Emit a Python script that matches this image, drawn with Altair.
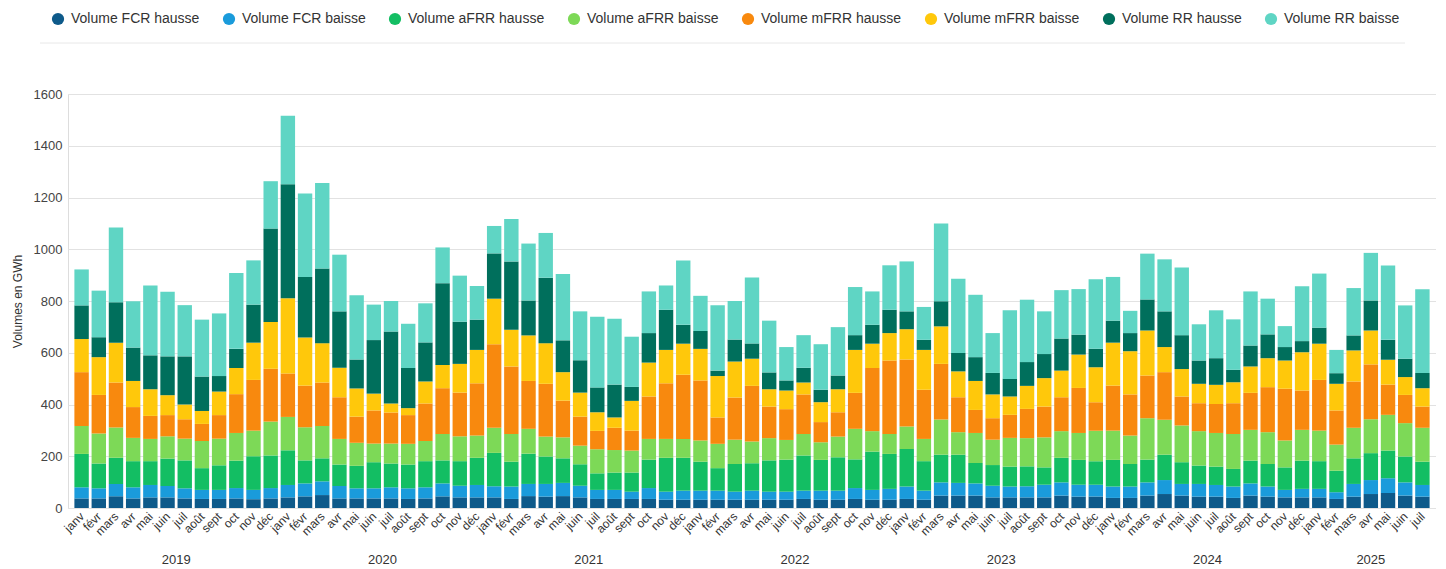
import altair as alt
import pandas as pd

MONTHS = ["janv", "févr", "mars", "avr", "mai", "juin", "juil", "août", "sept", "oct", "nov", "déc"]
YEARS = [2019, 2020, 2021, 2022, 2023, 2024, 2025]
MONTHS_PER_YEAR = [12, 12, 12, 12, 12, 12, 7]

SERIES = ["Volume FCR hausse", "Volume FCR baisse", "Volume aFRR hausse", "Volume aFRR baisse",
          "Volume mFRR hausse", "Volume mFRR baisse", "Volume RR hausse", "Volume RR baisse"]
COLORS = ["#0E5A8A", "#1A9BDB", "#13BE63", "#7DD957", "#F8890E", "#FFC80B", "#006F5C", "#5FD5C4"]

fcr_hausse = [37, 37, 45, 37, 41, 41, 37, 35, 35, 37, 34, 37,
              41, 45, 50, 37, 37, 37, 37, 35, 37, 45, 41, 41,
              41, 35, 46, 44, 46, 41, 35, 35, 35, 35, 32, 32,
              32, 32, 32, 32, 32, 32, 35, 32, 32, 35, 32, 32,
              35, 32, 48, 48, 48, 41, 41, 41, 41, 48, 44, 44,
              39, 39, 48, 54, 48, 44, 44, 39, 48, 44, 41, 41,
              41, 35, 44, 54, 58, 48, 44]
fcr_baisse = [43, 39, 48, 43, 48, 44, 39, 35, 35, 40, 36, 40,
              48, 50, 53, 48, 39, 39, 43, 41, 43, 50, 45, 48,
              43, 48, 47, 49, 51, 45, 35, 35, 28, 42, 31, 35,
              35, 35, 31, 35, 31, 31, 32, 35, 35, 42, 38, 42,
              48, 35, 51, 49, 47, 45, 42, 43, 49, 51, 46, 46,
              44, 44, 51, 54, 45, 49, 45, 44, 47, 39, 29, 33,
              33, 26, 49, 54, 57, 51, 45]
afrr_hausse = [129, 96, 101, 101, 92, 106, 108, 84, 95, 106, 130, 126,
               134, 89, 89, 83, 87, 101, 92, 92, 101, 89, 95, 105,
               129, 96, 117, 106, 95, 83, 64, 67, 74, 110, 131, 127,
               112, 87, 107, 106, 121, 124, 136, 119, 129, 111, 148, 135,
               145, 114, 107, 109, 79, 80, 77, 77, 67, 95, 96, 91,
               103, 87, 88, 98, 84, 71, 71, 68, 88, 87, 87, 109,
               107, 83, 99, 104, 107, 100, 90]
afrr_baisse = [108, 116, 117, 90, 86, 86, 84, 105, 103, 107, 99, 131,
               129, 128, 125, 99, 89, 72, 77, 80, 78, 102, 96, 86,
               97, 107, 96, 77, 81, 72, 93, 87, 85, 80, 73, 73,
               82, 94, 94, 84, 86, 76, 83, 68, 80, 118, 79, 77,
               87, 86, 136, 87, 116, 98, 111, 109, 116, 103, 104, 118,
               113, 110, 160, 135, 142, 133, 130, 135, 119, 123, 104, 119,
               118, 101, 118, 131, 138, 129, 131]
mfrr_hausse = [208, 149, 174, 119, 89, 82, 75, 66, 91, 150, 196, 204,
               168, 161, 168, 161, 101, 128, 120, 111, 145, 177, 169, 202,
               323, 261, 185, 204, 142, 112, 71, 86, 77, 164, 215, 248,
               232, 102, 163, 215, 122, 119, 153, 78, 94, 139, 244, 284,
               259, 190, 215, 135, 89, 83, 89, 113, 119, 131, 174, 110,
               174, 159, 165, 184, 112, 108, 112, 119, 143, 174, 200, 152,
               196, 132, 179, 212, 117, 109, 82]
mfrr_baisse = [128, 146, 154, 101, 103, 77, 57, 50, 91, 101, 144, 181,
               291, 186, 152, 114, 109, 65, 35, 27, 85, 90, 111, 129,
               176, 142, 176, 157, 110, 93, 72, 40, 115, 131, 129, 120,
               122, 160, 139, 105, 67, 72, 46, 77, 89, 166, 94, 106,
               117, 154, 145, 100, 112, 92, 71, 89, 110, 103, 129, 135,
               166, 167, 174, 97, 106, 75, 74, 81, 102, 112, 109, 148,
               140, 103, 120, 131, 96, 69, 71]
rr_hausse = [130, 77, 156, 129, 131, 150, 186, 133, 60, 74, 147, 361,
             440, 234, 289, 218, 112, 207, 278, 155, 151, 316, 163, 117,
             175, 264, 135, 253, 123, 125, 96, 127, 54, 114, 155, 73,
             69, 21, 85, 59, 65, 39, 57, 48, 53, 57, 73, 90,
             69, 39, 97, 71, 92, 83, 68, 92, 93, 124, 77, 71,
             85, 70, 120, 138, 131, 90, 103, 48, 81, 92, 52, 43,
             62, 41, 58, 116, 77, 71, 59]
rr_baisse = [139, 180, 289, 179, 270, 250, 198, 220, 242, 293, 171, 183,
             265, 322, 330, 219, 248, 137, 118, 171, 151, 138, 178, 130,
             106, 164, 220, 173, 256, 189, 273, 254, 194, 161, 94, 249,
             136, 253, 149, 255, 200, 129, 126, 176, 187, 186, 129, 172,
             193, 127, 301, 287, 241, 154, 265, 241, 165, 187, 176, 269,
             169, 86, 177, 201, 261, 140, 185, 195, 209, 138, 81, 212,
             209, 90, 183, 184, 287, 206, 323]

VALUES = [fcr_hausse, fcr_baisse, afrr_hausse, afrr_baisse,
          mfrr_hausse, mfrr_baisse, rr_hausse, rr_baisse]

FONT = "Liberation Sans"
W, H = 1368, 414

# long table
records = []
idx = 0
year_centers = []
for year, n in zip(YEARS, MONTHS_PER_YEAR):
    year_centers.append(idx + (n - 1) / 2)
    for m in range(n):
        for s, (name, vals) in enumerate(zip(SERIES, VALUES)):
            records.append({"idx": idx, "year": year, "month": MONTHS[m],
                            "series": name, "ord": s, "value": vals[idx]})
        idx += 1
n_bars = idx
df = pd.DataFrame(records)
years_df = pd.DataFrame({"year": [str(y) for y in YEARS], "center": year_centers})

month_expr = "[" + ",".join("'%s'" % m for m in MONTHS) + "][datum.value % 12]"

xscale = alt.Scale(domain=[-0.5, n_bars - 0.5], nice=False, zero=False)


def make_xaxis():
    return alt.Axis(values=list(range(n_bars)), labelExpr=month_expr, tickCount=n_bars,
                    labelAngle=315, labelAlign="right", labelBaseline="middle",
                    labelPadding=6, ticks=False, domain=False, grid=False,
                    labelOverlap=False, labelFlush=False, labelBound=False,
                    labelFontSize=12, labelColor="#333333", labelFont=FONT, title=None)


bars = alt.Chart(df).mark_bar(width=14.4).encode(
    x=alt.X("idx:Q", scale=xscale, axis=make_xaxis()),
    y=alt.Y("value:Q", stack="zero", scale=alt.Scale(domain=[0, 1600], nice=False),
            axis=alt.Axis(values=list(range(0, 1601, 200)), format="d", title="Volumes en GWh",
                          grid=True, gridColor="#e2e2e2", domain=False, ticks=False,
                          labelPadding=6, labelFontSize=13, labelColor="#444444", labelFont=FONT,
                          titleFont=FONT, titleFontSize=12, titleFontWeight="normal",
                          titleColor="#333333", titlePadding=9)),
    color=alt.Color("series:N", scale=alt.Scale(domain=SERIES, range=COLORS),
                    legend=alt.Legend(title=None, orient="none", legendX=-17, legendY=-82,
                                      direction="horizontal", symbolType="circle",
                                      symbolSize=150, symbolStrokeWidth=0, labelOffset=6,
                                      columnPadding=22, labelFontSize=14, labelFont=FONT,
                                      labelColor="#333333")),
    order=alt.Order("ord:Q", sort="ascending"),
)

years = alt.Chart(years_df).mark_text(fontSize=13, color="#333333", font=FONT,
                                      baseline="middle", align="center").encode(
    x=alt.X("center:Q", scale=xscale, axis=make_xaxis()),
    y=alt.value(H + 52),
    text="year:N",
)

sep = alt.Chart(pd.DataFrame({"a": [0]})).mark_rule(color="#e8e8e8", strokeWidth=1).encode(
    x=alt.value(-28), x2=alt.value(1337), y=alt.value(-51)
)

chart = alt.layer(sep, bars, years).properties(
    width=W, height=H,
    padding={"left": 60, "top": 86, "right": 0, "bottom": 60},
    autosize=alt.AutoSizeParams(type="none"),
).configure_view(stroke=None).configure(background="white")

chart.save("out.html", embed_options={"renderer": "svg", "actions": False})
